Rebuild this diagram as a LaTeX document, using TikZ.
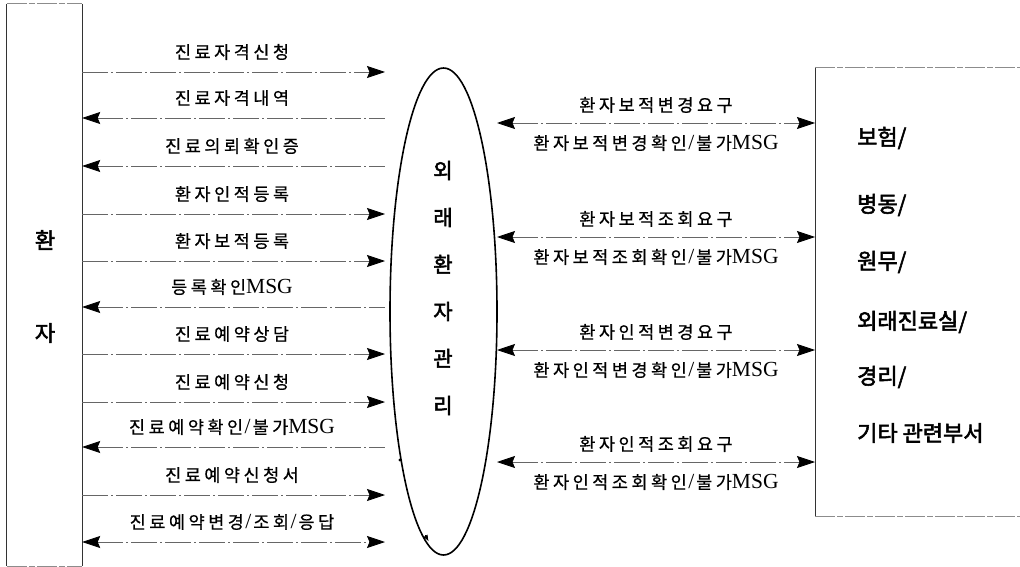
\documentclass[tikz,border=0pt]{standalone}
\usepackage{fontspec}
\setmainfont{Noto Sans CJK KR}
\newfontfamily\kr[FakeBold=2.5]{Noto Sans CJK KR}
\newfontfamily\lab[LetterSpace=20, FakeBold=0.6]{Noto Sans CJK KR}
\newfontfamily\ser{Liberation Serif}
\usetikzlibrary{arrows.meta,shapes.geometric}
\newcommand{\msg}{{\ser\fontsize{21.5}{20}\selectfont MSG}}
\newcommand{\slsh}{\kern1.5pt{\ser\fontsize{21.5}{20}\selectfont /}\kern2pt}
\begin{document}
\begin{tikzpicture}[x=1pt,y=-1pt,
  flow/.style={draw=black!60, line width=0.8pt, dash pattern=on 26pt off 3pt on 2pt off 3pt},
  tipA/.tip={Stealth[length=18pt,width=12pt,inset=2.5pt,color=black]},
  fw/.style={-tipA},
  bw/.style={tipA-},
  bi/.style={tipA-tipA},
  msglab/.style={font=\lab\fontsize{17.5}{18}\selectfont, inner sep=0pt},
  bigtxt/.style={font=\kr\fontsize{22}{22}\selectfont, inner sep=0pt},
  edge/.style={draw=black!80, line width=0.8pt},
  softedge/.style={draw=black!45, line width=0.8pt, dash pattern=on 20pt off 2pt on 6pt off 2pt}]
\useasboundingbox (0,0) rectangle (1020,567);

% left box: patient
\node[minimum width=75pt, minimum height=562pt, inner sep=0pt] (pat) at (44.5,285) {};
\draw[edge] (pat.north west) -- (pat.south west);
\draw[edge] (pat.north east) -- (pat.south east);
\draw[softedge] (pat.north west) -- (pat.north east);
\draw[softedge] (pat.south west) -- (pat.south east);
\node[bigtxt] (pat1) at (45,240) {환};
\node[bigtxt] (pat2) at (45,333) {자};

% ellipse: system
\node[draw, ellipse, line width=1.6pt, minimum width=107pt, minimum height=487pt, inner sep=0pt] (sys) at (443.5,311.5) {};
\node[font=\kr\fontsize{21}{47}\selectfont, align=center, inner sep=0pt] (syslab) at (443,288) {외\\래\\환\\자\\관\\리};
\fill (400,460) circle (1.6pt);
\draw[line width=0pt, -{Latex[length=6pt,width=5pt]}] (425.5,536) -- (428.5,541);

% right box: departments
\node[minimum width=210pt, minimum height=449pt, anchor=north west, inner sep=0pt] (dept) at (815,67) {};
\draw[edge] (dept.north west) -- (dept.south west);
\draw[softedge] (dept.north west) -- (dept.north east);
\draw[softedge] (dept.south west) -- (dept.south east);
\foreach \i/\y/\t in {1/138/{보험/}, 2/205/{병동/}, 3/262/{원무/}, 4/322/{외래진료실/}, 5/377/{경리/}, 6/433/{기타 관련부서}}
  \node[bigtxt, anchor=west] (dept\i) at (857,\y) {\t};

% left flows
\foreach \i/\y/\d/\t in {
  1/72/fw/{진료자격신청},
  2/118/bw/{진료자격내역},
  3/166/bw/{진료의뢰확인증},
  4/214/fw/{환자인적등록},
  5/261/fw/{환자보적등록},
  6/307/bw/{등록확인\msg},
  7/354/fw/{진료예약상담},
  8/402/fw/{진료예약신청},
  9/447/bw/{진료예약확인\slsh 불가\msg},
  10/495/fw/{진료예약신청서},
  11/542/bi/{진료예약변경\slsh 조회\slsh 응답}} {
  \coordinate (L\i) at (385,\y);
  \draw[flow,\d] (pat.east |- L\i) -- (L\i);
  \node[msglab] (Lt\i) at (232,\y-20) {\t};
}

% right flows
\foreach \i/\y/\a/\b in {
  1/123/{환자보적변경요구}/{환자보적변경확인\slsh 불가\msg},
  2/237/{환자보적조회요구}/{환자보적조회확인\slsh 불가\msg},
  3/350/{환자인적변경요구}/{환자인적변경확인\slsh 불가\msg},
  4/462/{환자인적조회요구}/{환자인적조회확인\slsh 불가\msg}} {
  \coordinate (R\i) at (497,\y);
  \draw[flow,bi] (R\i) -- (dept.west |- R\i);
  \node[msglab] (Ra\i) at (656,\y-18) {\a};
  \node[msglab] (Rb\i) at (656,\y+20) {\b};
}
\end{tikzpicture}
\end{document}
